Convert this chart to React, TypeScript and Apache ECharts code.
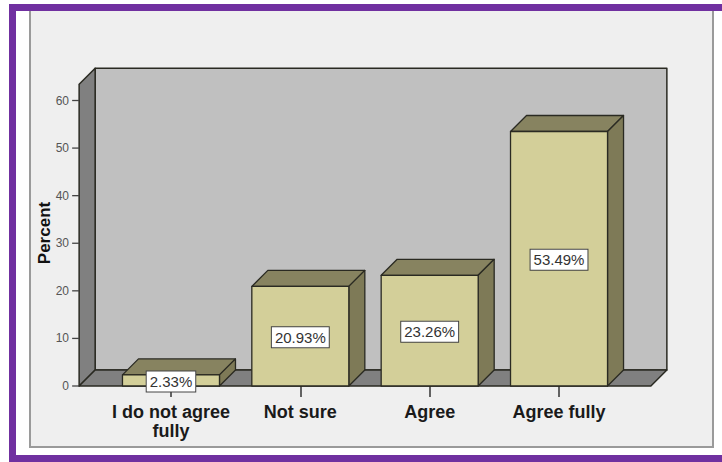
import React, { useEffect, useRef } from "react";
import * as echarts from "echarts";

const categories = ["I do not agree fully", "Not sure", "Agree", "Agree fully"];
const percents = [2.33, 20.93, 23.26, 53.49];
const yTickValues = [0, 10, 20, 30, 40, 50, 60];
const yMin = 0;
const yMax = 60;
const yInterval = 10;

const FONT = "'Liberation Sans', Arial, sans-serif";
const FRONT = "#d3cf99";
const TOPC = "#878360";
const SIDEC = "#7e7a57";
const EDGE = "#2a2a22";

export default function App() {
  const ref = useRef<HTMLDivElement>(null);

  useEffect(() => {
    if (!ref.current) return;
    const chart = echarts.init(ref.current, undefined, { renderer: "svg" });
    const DX = 16;
    const DY = -16;

    const wallsRender = (params: any, api: any) => {
      const L = -0.71;
      const R = 3.71;
      const TOP = 63.4;
      const fb = api.coord([L, 0]);
      const ft = api.coord([L, TOP]);
      const rb = api.coord([R, 0]);
      const st = { stroke: EDGE, lineWidth: 1.5, lineJoin: "round" };
      const ticks = yTickValues.map((t) => {
        const p = api.coord([L, t]);
        return {
          type: "line",
          shape: { x1: p[0] - 7, y1: p[1], x2: p[0], y2: p[1] },
          style: { stroke: "#444", lineWidth: 1.3 },
        };
      });
      return {
        type: "group",
        children: [
          {
            type: "polygon",
            shape: {
              points: [
                [fb[0] + DX, ft[1] + DY],
                [rb[0] + DX, ft[1] + DY],
                [rb[0] + DX, rb[1] + DY],
                [fb[0] + DX, fb[1] + DY],
              ],
            },
            style: { fill: "#c0c0c0", ...st },
          },
          {
            type: "polygon",
            shape: {
              points: [
                [fb[0], fb[1]],
                [ft[0], ft[1]],
                [ft[0] + DX, ft[1] + DY],
                [fb[0] + DX, fb[1] + DY],
              ],
            },
            style: { fill: "#808080", ...st },
          },
          {
            type: "polygon",
            shape: {
              points: [
                [fb[0], fb[1]],
                [rb[0], rb[1]],
                [rb[0] + DX, rb[1] + DY],
                [fb[0] + DX, fb[1] + DY],
              ],
            },
            style: { fill: "#808080", ...st },
          },
          ...ticks,
        ],
      };
    };

    const barsRender = (params: any, api: any) => {
      const i = api.value(0);
      const v = api.value(1);
      const tl = api.coord([i - 0.375, v]);
      const br = api.coord([i + 0.375, 0]);
      const x0 = tl[0];
      const x1 = br[0];
      const yT = tl[1];
      const yB = br[1];
      const st = { stroke: EDGE, lineWidth: 1.3, lineJoin: "round" };
      return {
        type: "group",
        children: [
          {
            type: "polygon",
            shape: {
              points: [
                [x0, yT],
                [x1, yT],
                [x1 + DX, yT + DY],
                [x0 + DX, yT + DY],
              ],
            },
            style: { fill: TOPC, ...st },
          },
          {
            type: "polygon",
            shape: {
              points: [
                [x1, yT],
                [x1, yB],
                [x1 + DX, yB + DY],
                [x1 + DX, yT + DY],
              ],
            },
            style: { fill: SIDEC, ...st },
          },
          {
            type: "rect",
            shape: { x: x0, y: yT, width: x1 - x0, height: yB - yT },
            style: { fill: FRONT, ...st },
          },
          {
            type: "text",
            x: (x0 + x1) / 2,
            y: (yT + yB) / 2 + 1,
            z2: 10,
            style: {
              text: v.toFixed(2) + "%",
              font: `15px ${FONT}`,
              fill: "#333",
              align: "center",
              verticalAlign: "middle",
              backgroundColor: "#ffffff",
              borderColor: "#444",
              borderWidth: 1,
              padding: [3, 3, 2, 3],
            },
          },
        ],
      };
    };

    chart.setOption({
      animation: false,
      backgroundColor: "#ffffff",
      graphic: [
        {
          type: "rect",
          z: -10,
          shape: { x: 30, y: 8, width: 683, height: 439 },
          style: { fill: "#efefef", stroke: "#9a9a9a", lineWidth: 2 },
        },
        {
          type: "rect",
          z: -5,
          shape: { x: 9, y: 4, width: 713, height: 7 },
          style: { fill: "#7030a0" },
        },
        {
          type: "rect",
          z: -5,
          shape: { x: 9, y: 4, width: 7, height: 458 },
          style: { fill: "#7030a0" },
        },
        {
          type: "rect",
          z: -5,
          shape: { x: 9, y: 455, width: 713, height: 7 },
          style: { fill: "#7030a0" },
        },
        {
          type: "text",
          x: 44,
          y: 233,
          rotation: Math.PI / 2,
          style: {
            text: "Percent",
            font: `bold 17px ${FONT}`,
            fill: "#111",
            align: "center",
            verticalAlign: "middle",
          },
        },
      ],
      grid: { left: 106.3, right: 98.3, top: 100.5, bottom: 76, containLabel: false },
      xAxis: [
        {
          type: "category",
          data: categories,
          boundaryGap: true,
          axisLine: { show: false },
          axisTick: {
            show: true,
            alignWithLabel: true,
            length: 11,
            lineStyle: { color: "#333", width: 1.5 },
          },
          axisLabel: {
            margin: 16,
            fontSize: 18,
            fontWeight: "bold",
            fontFamily: FONT,
            color: "#1a1a1a",
            lineHeight: 19,
            interval: 0,
            formatter: (s: string) => (s === "I do not agree fully" ? "I do not agree\nfully" : s),
          },
          splitLine: { show: false },
        },
        {
          type: "value",
          min: -0.5,
          max: 3.5,
          show: false,
        },
      ],
      yAxis: {
        type: "value",
        min: yMin,
        max: yMax,
        interval: yInterval,
        offset: 27.3,
        position: "left",
        axisLine: { show: false },
        axisTick: { show: false },
        axisLabel: { margin: 10, fontSize: 12, fontFamily: FONT, color: "#555" },
        splitLine: { show: false },
      },
      series: [
        {
          type: "custom",
          xAxisIndex: 1,
          yAxisIndex: 0,
          z: 1,
          silent: true,
          renderItem: wallsRender,
          data: [[0, 0]],
        },
        {
          type: "custom",
          xAxisIndex: 1,
          yAxisIndex: 0,
          z: 3,
          silent: true,
          renderItem: barsRender,
          data: categories.map((c, i) => [i, percents[i]]),
        },
      ],
    });

    return () => chart.dispose();
  }, []);

  return (
    <div
      ref={ref}
      style={{ position: "fixed", left: 0, top: 0, width: 722, height: 462 }}
    />
  );
}
